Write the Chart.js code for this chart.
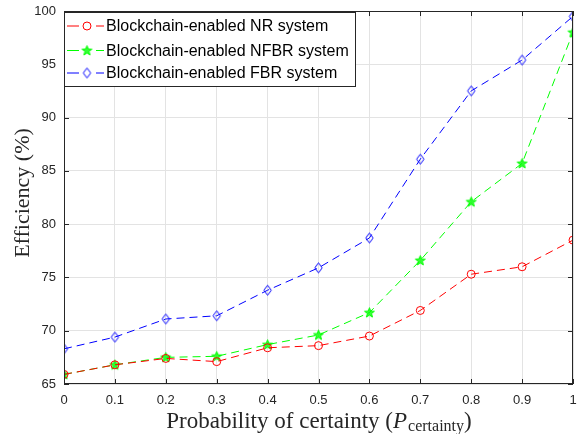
<!DOCTYPE html>
<html>
<head>
<meta charset="utf-8">
<script src="https://cdn.jsdelivr.net/npm/chart.js@4"></script>
<style>
  html, body { margin: 0; padding: 0; background: #fff; }
  #wrap { width: 579px; height: 434px; }
</style>
</head>
<body>
<div id="wrap"><canvas id="chart" width="579" height="434"></canvas></div>
<script>
// data
const xValues = [0, 0.1, 0.2, 0.3, 0.4, 0.5, 0.6, 0.7, 0.8, 0.9, 1];
const xTickLabels = ['0', '0.1', '0.2', '0.3', '0.4', '0.5', '0.6', '0.7', '0.8', '0.9', '1'];
const seriesNames = ['Blockchain-enabled NR system', 'Blockchain-enabled NFBR system', 'Blockchain-enabled FBR system'];
const nrValues   = [65.9, 66.8, 67.4, 67.1, 68.4, 68.6, 69.5, 71.9, 75.3, 76.0, 78.5];
const nfbrValues = [65.9, 66.8, 67.5, 67.6, 68.7, 69.6, 71.7, 76.6, 82.1, 85.7, 98.0];
const fbrValues  = [68.3, 69.4, 71.1, 71.4, 73.8, 75.9, 78.7, 86.1, 92.5, 95.4, 99.5];
const yTicks = [65, 70, 75, 80, 85, 90, 95, 100];

function toPoints(vals) {
  return vals.map(function (v, i) { return { x: xValues[i], y: v }; });
}

// marker images
function starMarker(color) {
  const c = document.createElement('canvas');
  c.width = 13; c.height = 13;
  const g = c.getContext('2d');
  g.beginPath();
  for (let i = 0; i < 10; i++) {
    const r = i % 2 === 0 ? 5.2 : 2.2;
    const a = -Math.PI / 2 + i * Math.PI / 5;
    const px = 6.5 + r * Math.cos(a), py = 6.8 + r * Math.sin(a);
    if (i === 0) g.moveTo(px, py); else g.lineTo(px, py);
  }
  g.closePath();
  g.fillStyle = 'rgba(0,255,0,0.8)';
  g.fill();
  g.strokeStyle = color;
  g.lineWidth = 1;
  g.stroke();
  return c;
}
function diamondMarker(color) {
  const c = document.createElement('canvas');
  c.width = 11; c.height = 13;
  const g = c.getContext('2d');
  g.beginPath();
  g.moveTo(5.5, 1.5); g.lineTo(9.2, 6.5); g.lineTo(5.5, 11.5); g.lineTo(1.8, 6.5);
  g.closePath();
  g.strokeStyle = color;
  g.lineWidth = 1;
  g.stroke();
  return c;
}
const starImg = starMarker('#00ff00');
const diamondImg = diamondMarker('#0000ff');

const frame = {
  id: 'frame',
  afterDraw: function (chart) {
    const ctx = chart.ctx;
    const a = chart.chartArea;
    const xs = chart.scales.x, ys = chart.scales.y;
    ctx.save();
    ctx.strokeStyle = '#262626';
    ctx.lineWidth = 1;
    ctx.strokeRect(a.left + 0.5, a.top + 0.5, a.right - a.left - 1, a.bottom - a.top - 1);
    ctx.beginPath();
    xValues.forEach(function (v) {
      const px = Math.round(xs.getPixelForValue(v)) + 0.5;
      ctx.moveTo(px, a.bottom); ctx.lineTo(px, a.bottom - 5);
      ctx.moveTo(px, a.top); ctx.lineTo(px, a.top + 5);
    });
    yTicks.forEach(function (v) {
      const py = Math.round(ys.getPixelForValue(v)) + 0.5;
      ctx.moveTo(a.left, py); ctx.lineTo(a.left + 5, py);
      ctx.moveTo(a.right, py); ctx.lineTo(a.right - 5, py);
    });
    ctx.stroke();

    // axis titles
    ctx.fillStyle = '#262626';
    ctx.textBaseline = 'alphabetic';
    const big = '23px "Liberation Serif"';
    const bigIt = 'italic 23px "Liberation Serif"';
    const small = '16px "Liberation Serif"';
    const parts = [
      ['Probability of certainty (', big, 0],
      ['P', bigIt, 0],
      ['certainty', small, 3],
      [')', big, 0]
    ];
    let total = 0;
    parts.forEach(function (p) { ctx.font = p[1]; total += ctx.measureText(p[0]).width; });
    let x = (a.left + a.right) / 2 - total / 2;
    parts.forEach(function (p) {
      ctx.font = p[1];
      ctx.fillText(p[0], x, 428 + p[2]);
      x += ctx.measureText(p[0]).width + (p[0] === 'P' ? 1 : 0);
    });
    ctx.save();
    ctx.translate(29, 193);
    ctx.rotate(-Math.PI / 2);
    ctx.textAlign = 'center';
    ctx.font = '22px "Liberation Serif"';
    ctx.fillText('Efficiency (%)', 0, 0);
    ctx.restore();

    // legend
    const lx = 64.5, ly = 12.5, lw = 291, lh = 74;
    ctx.fillStyle = '#fff';
    ctx.fillRect(lx, ly, lw, lh);
    ctx.strokeStyle = '#262626';
    ctx.strokeRect(lx, ly, lw, lh);
    const rows = [26, 50.5, 73];
    ctx.font = '16px "Liberation Sans"';
    ctx.textBaseline = 'middle';
    ctx.textAlign = 'left';
    chart.data.datasets.forEach(function (ds, i) {
      const y = rows[i];
      ctx.strokeStyle = ds.borderColor;
      ctx.beginPath();
      ctx.moveTo(67, y); ctx.lineTo(79, y);
      ctx.moveTo(96, y); ctx.lineTo(104, y);
      ctx.stroke();
      if (ds.pointStyle === 'circle') {
        ctx.beginPath();
        ctx.arc(87, y, 4, 0, Math.PI * 2);
        ctx.stroke();
      } else {
        const img = ds.pointStyle;
        ctx.drawImage(img, 87 - img.width / 2, y - img.height / 2);
      }
      ctx.fillStyle = '#000';
      ctx.fillText(ds.label, 106, y + 1);
    });
    ctx.restore();
  }
};

new Chart(document.getElementById('chart'), {
  type: 'line',
  data: {
    datasets: [
      { label: seriesNames[0], data: toPoints(nrValues), borderColor: '#ff0000', backgroundColor: 'rgba(0,0,0,0)',
        borderWidth: 1, borderDash: [8, 5], pointStyle: 'circle', pointRadius: 4, pointBorderWidth: 1 },
      { label: seriesNames[1], data: toPoints(nfbrValues), borderColor: '#00ff00', backgroundColor: 'rgba(0,0,0,0)',
        borderWidth: 1, borderDash: [8, 5], pointStyle: starImg, pointRadius: 5 },
      { label: seriesNames[2], data: toPoints(fbrValues), borderColor: '#0000ff', backgroundColor: 'rgba(0,0,0,0)',
        borderWidth: 1, borderDash: [8, 5], pointStyle: diamondImg, pointRadius: 5 }
    ]
  },
  options: {
    responsive: false,
    animation: false,
    events: [],
    layout: { padding: { top: 11, right: 1, left: 0, bottom: 0 } },
    plugins: { legend: { display: false }, tooltip: { enabled: false } },
    scales: {
      x: {
        type: 'linear', min: 0, max: 1,
        afterBuildTicks: function (s) { s.ticks = xValues.map(function (v) { return { value: v }; }); },
        afterFit: function (s) { s.height = 50; s.paddingLeft = 0; s.paddingRight = 0; },
        grid: { color: '#e3e3e3', drawTicks: false },
        border: { display: false },
        ticks: {
          padding: 9, color: '#262626', font: { family: 'Liberation Sans', size: 13 },
          maxRotation: 0, autoSkip: false,
          callback: function (v) { const i = xValues.indexOf(v); return i >= 0 ? xTickLabels[i] : ''; }
        }
      },
      y: {
        min: 65, max: 100,
        afterBuildTicks: function (s) { s.ticks = yTicks.map(function (v) { return { value: v }; }); },
        afterFit: function (s) { s.width = 64; s.paddingTop = 0; s.paddingBottom = 0; },
        grid: { color: '#e3e3e3', drawTicks: false },
        border: { display: false },
        ticks: { padding: 8, color: '#262626', font: { family: 'Liberation Sans', size: 13 } }
      }
    }
  },
  plugins: [frame]
});
</script>
</body>
</html>
